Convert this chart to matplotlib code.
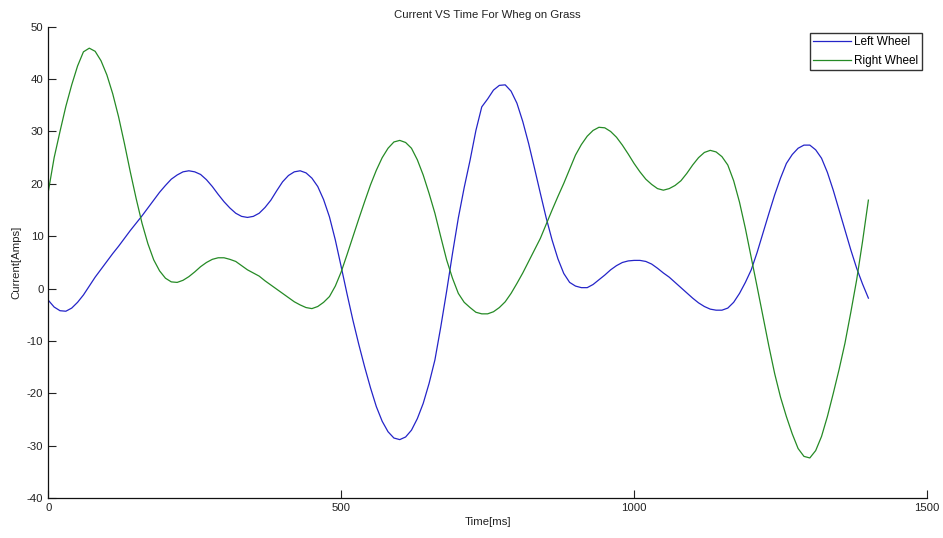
import matplotlib
matplotlib.use("Agg")
import matplotlib.pyplot as plt

plt.rcParams['font.family'] = ['Liberation Sans', 'DejaVu Sans']
plt.rcParams['axes.unicode_minus'] = False

time_ms = list(range(0, 1401, 10))

left_wheel = [
    -2.2, -3.5, -4.2, -4.3, -3.7, -2.6, -1.2, 0.5, 2.2, 3.7,
    5.2, 6.7, 8.1, 9.6, 11.1, 12.5, 13.9, 15.4, 16.9, 18.4,
    19.7, 20.9, 21.7, 22.3, 22.5, 22.3, 21.8, 20.8, 19.5, 18.0,
    16.6, 15.4, 14.4, 13.8, 13.6, 13.8, 14.4, 15.5, 16.9, 18.7,
    20.4, 21.6, 22.3, 22.5, 22.1, 21.1, 19.5, 17.0, 13.7, 9.3,
    4.2, -1.0, -6.0, -10.6, -14.9, -18.9, -22.5, -25.3, -27.3, -28.5,
    -28.8, -28.3, -27.0, -24.8, -21.9, -18.1, -13.6, -7.3, -0.5, 6.7,
    13.5, 19.3, 24.5, 30.2, 34.7, 36.2, 37.9, 38.8, 38.9, 37.7,
    35.4, 31.9, 27.7, 23.0, 18.2, 13.5, 9.3, 5.7, 2.9, 1.2,
    0.5, 0.2, 0.2, 0.8, 1.7, 2.6, 3.6, 4.4, 5.0, 5.3,
    5.4, 5.4, 5.2, 4.7, 3.9, 3.0, 2.2, 1.2, 0.2, -0.8,
    -1.8, -2.7, -3.4, -3.9, -4.1, -4.1, -3.7, -2.6, -0.9, 1.2,
    3.6, 6.9, 10.6, 14.3, 17.9, 21.1, 23.9, 25.6, 26.8, 27.4,
    27.4, 26.5, 24.9, 22.2, 18.8, 15.0, 11.2, 7.4, 3.9, 0.9,
    -1.8,
]

right_wheel = [
    18.5, 25.0, 30.0, 34.8, 38.9, 42.5, 45.2, 45.9, 45.3, 43.5,
    40.8, 37.2, 32.8, 27.7, 22.3, 17.2, 12.5, 8.6, 5.5, 3.4,
    2.0, 1.3, 1.2, 1.6, 2.3, 3.2, 4.2, 5.0, 5.6, 5.9,
    5.9, 5.6, 5.2, 4.4, 3.6, 3.0, 2.4, 1.5, 0.7, -0.1,
    -0.9, -1.7, -2.5, -3.1, -3.6, -3.8, -3.4, -2.6, -1.5, 0.5,
    3.2, 6.5, 9.9, 13.3, 16.6, 19.8, 22.6, 25.0, 26.8, 28.0,
    28.3, 27.9, 26.8, 24.6, 21.7, 18.2, 14.4, 9.9, 5.5, 2.0,
    -0.9, -2.6, -3.6, -4.5, -4.8, -4.8, -4.4, -3.6, -2.5, -0.9,
    1.0, 3.0, 5.2, 7.4, 9.6, 12.3, 15.0, 17.6, 20.1, 22.8,
    25.5, 27.5, 29.1, 30.2, 30.8, 30.7, 30.0, 28.9, 27.4, 25.7,
    23.9, 22.3, 20.9, 19.9, 19.1, 18.8, 19.1, 19.7, 20.6, 22.0,
    23.6, 25.0, 26.0, 26.4, 26.1, 25.2, 23.6, 20.6, 16.5, 11.5,
    6.0, 0.4, -5.3, -10.9, -16.2, -20.7, -24.4, -27.7, -30.5, -32.0,
    -32.3, -30.9, -28.2, -24.4, -20.0, -15.4, -10.4, -4.5, 1.7, 9.0,
    16.9,
]

series_names = ["Left Wheel", "Right Wheel"]
x_ticks = [0, 500, 1000, 1500]
y_ticks = [-40, -30, -20, -10, 0, 10, 20, 30, 40, 50]

fig = plt.figure(figsize=(9.43, 5.38), dpi=100)
ax = fig.add_axes([0.0512, 0.0738, 0.9318, 0.8766])

ax.plot(time_ms, left_wheel, color='#2424c8', lw=0.9, label=series_names[0])
ax.plot(time_ms, right_wheel, color='#258a25', lw=0.9, label=series_names[1])

ax.set_xlim(0, 1500)
ax.set_ylim(-40, 50)
ax.set_xticks(x_ticks)
ax.set_yticks(y_ticks)
ax.tick_params(direction='in', length=6, width=0.8, labelsize=8.2, colors='#222222')
ax.spines['top'].set_visible(False)
ax.spines['right'].set_visible(False)
for s in ('left', 'bottom'):
    ax.spines[s].set_linewidth(0.9)
    ax.spines[s].set_color('#111111')

ax.set_title("Current VS Time For Wheg on Grass", fontsize=8.2, pad=6, color='#222222')
ax.set_xlabel("Time[ms]", fontsize=8.2, labelpad=3, color='#222222')
ax.set_ylabel("Current[Amps]", fontsize=8.2, labelpad=4, color='#222222')

leg = ax.legend(loc='upper right', bbox_to_anchor=(0.9945, 0.987), fontsize=8.5,
                fancybox=False, framealpha=1, edgecolor='#333333',
                handlelength=3.2, handletextpad=0.3, borderpad=0.3,
                labelspacing=0.55, borderaxespad=0)
leg.get_frame().set_linewidth(1.0)

fig.savefig("out.png", dpi=100)
